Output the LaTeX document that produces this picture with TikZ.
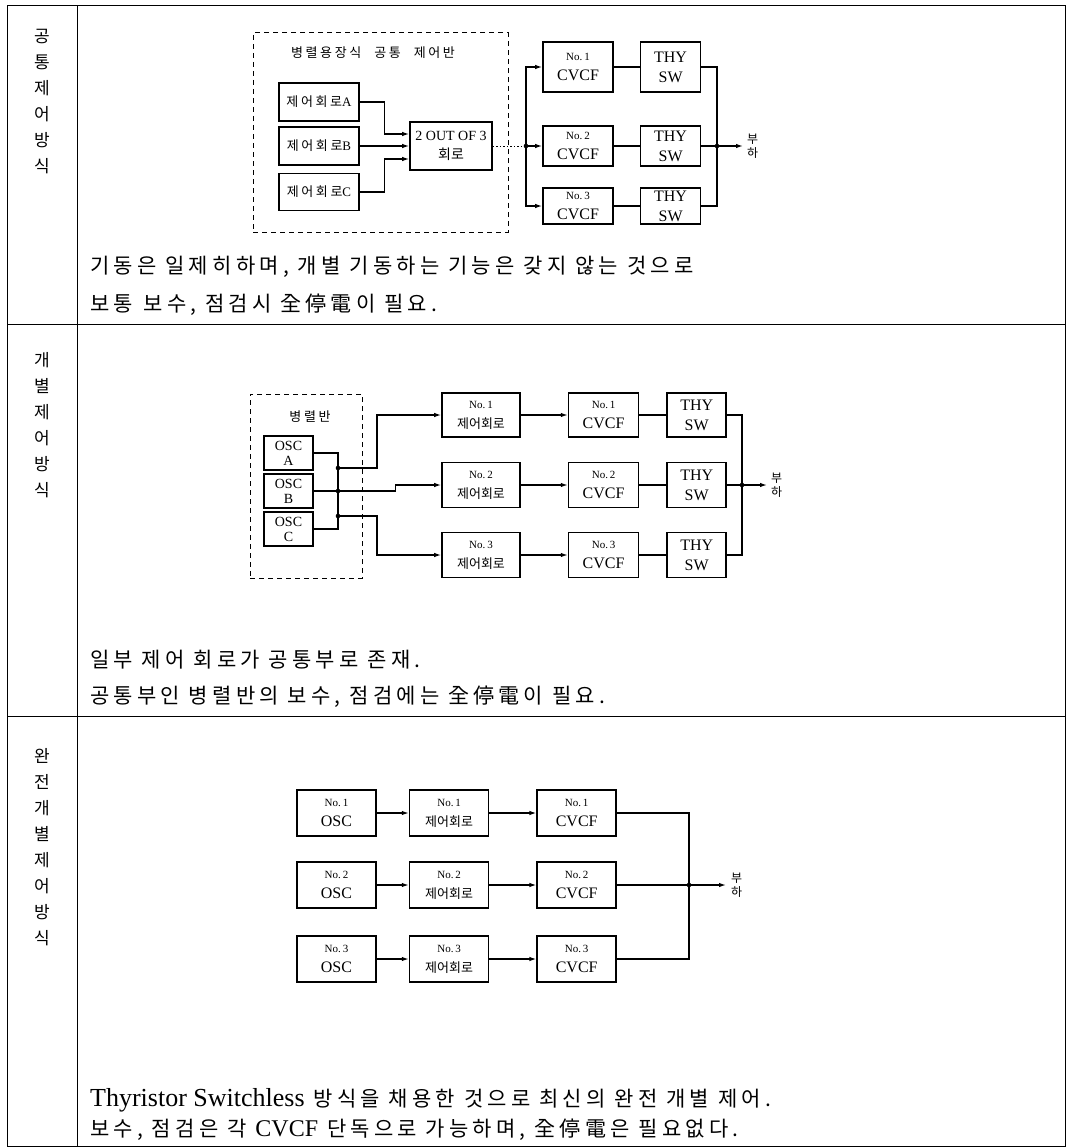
\documentclass[tikz,border=0pt]{standalone}
\usepackage{fontspec}
\setmainfont{Liberation Serif}
\newfontfamily\kr{Noto Sans CJK KR}
\newfontfamily\krs{Noto Sans CJK KR}[LetterSpace=20]
\usetikzlibrary{arrows.meta,positioning,calc}
\newcommand\nol[1]{{\fontsize{11}{12}\selectfont No.\,#1}}
\newcommand\ctlk{{\kr\fontsize{13}{15}\selectfont 제어회로}}

\begin{document}
\begin{tikzpicture}[x=1pt, y=-1pt,
  blk/.style={rectangle, draw, line width=1.6pt, align=center, inner sep=0pt,
              font=\fontsize{16}{20}\selectfont},
  panel/.style={rectangle, draw, line width=1pt, dash pattern=on 5pt off 4pt},
  lbl/.style={font=\kr\fontsize{17}{26}\selectfont, align=center, inner sep=0pt, anchor=north},
  txt/.style={font=\krs\fontsize{21}{24}\selectfont, anchor=west, inner sep=0pt},
  rule/.style={line width=1pt},
  ln/.style={line width=1.3pt},
  arr/.style={ln, -{Latex[length=7pt,width=4.5pt]}},
  load/.style={font=\kr\fontsize{12}{14}\selectfont, align=center, inner sep=0pt, anchor=west}
]
  \useasboundingbox (0,0) rectangle (1070,1148);
  % table
  \draw[rule] (7,6) rectangle (1065,1146);
  \draw[rule] (77,6) -- (77,1146);
  \draw[rule] (7,324) -- (1065,324);
  \draw[rule] (7,716) -- (1065,716);

  % common control
  \node[lbl] (capT) at (42,29) {공\\통\\제\\어\\방\\식};
  \node[panel, minimum width=255pt, minimum height=199pt] (panT) at (380.5,132.5) {};
  \node[font=\krs\fontsize{13}{15}\selectfont] (panTt) at (373,53) {병렬용장식\quad 공통\quad 제어반};
  \node[blk, minimum width=80pt, minimum height=38pt, font=\krs\fontsize{13}{16}\selectfont] (ctlA) at (319,102) {제어회로{\rmfamily A}};
  \node[blk, minimum width=80pt, minimum height=38pt, font=\krs\fontsize{13}{16}\selectfont] (ctlB) at (319,146) {제어회로{\rmfamily B}};
  \node[blk, minimum width=80pt, minimum height=37pt, font=\krs\fontsize{13}{16}\selectfont] (ctlC) at (319,192) {제어회로{\rmfamily C}};
  \node[blk, minimum width=82pt, minimum height=48pt, font=\fontsize{14}{19}\selectfont] (vote) at (451,146) {2 OUT OF 3\\{\kr 회로}};
  \node[blk, minimum width=70pt, minimum height=50pt] (cvT1) at (578,67) {\nol1\\CVCF};
  \node[blk, minimum width=70pt, minimum height=40pt] (cvT2) at (578,146) {\nol2\\CVCF};
  \node[blk, minimum width=70pt, minimum height=36pt] (cvT3) at (578,206) {\nol3\\CVCF};
  \node[blk, minimum width=60pt, minimum height=50pt] (swT1) [right=26pt of cvT1] {THY\\SW};
  \node[blk, minimum width=60pt, minimum height=40pt] (swT2) [right=26pt of cvT2] {THY\\SW};
  \node[blk, minimum width=60pt, minimum height=36pt] (swT3) [right=26pt of cvT3] {THY\\SW};
  \coordinate (jT) at (526,146);
  \coordinate (oT) at (717,146);
  \coordinate (eT) at (743,146);
  \node[load, right=4pt of eT] (ldT) {부\\하};
  \draw[arr] (ctlA.east) -- ++(25,0) |- ([yshift=12pt]vote.west);
  \draw[arr] (ctlB) -- (vote);
  \draw[arr] (ctlC.east) -- ++(25,0) |- ([yshift=-13pt]vote.west);
  \draw[line width=1pt, dash pattern=on 1.5pt off 2pt] (vote.east) -- (jT);
  \draw[arr] (jT) |- (cvT1.west);
  \draw[arr] (jT) -- (cvT2.west);
  \draw[arr] (jT) |- (cvT3.west);
  \draw[ln] (cvT1) -- (swT1);  \draw[ln] (cvT2) -- (swT2);  \draw[ln] (cvT3) -- (swT3);
  \draw[ln] (swT1.east) -| (oT);  \draw[ln] (swT3.east) -| (oT);  \draw[ln] (swT2.east) -- (oT);
  \draw[arr] (oT) -- (eT);
  \foreach \p in {jT,oT} \fill (\p) circle (2.3pt);
  \node[txt] (noteT1) at (90,267) {기동은 일제히하며, 개별 기동하는 기능은 갖지 않는 것으로};
  \node[txt] (noteT2) at (90,305) {보통\enspace 보수, 점검시 全停電이 필요.};

  % individual control
  \node[lbl] (capM) at (42,352) {개\\별\\제\\어\\방\\식};
  \node[panel, minimum width=112pt, minimum height=184pt] (panM) at (306,486) {};
  \node[font=\krs\fontsize{13}{15}\selectfont] (panMt) at (310,417) {병렬반};
  \node[blk, minimum width=49pt, minimum height=34pt, font=\fontsize{14}{15}\selectfont] (oscA) at (288.5,453) {OSC\\A};
  \node[blk, minimum width=49pt, minimum height=34pt, font=\fontsize{14}{15}\selectfont] (oscB) at (288.5,491) {OSC\\B};
  \node[blk, minimum width=49pt, minimum height=34pt, font=\fontsize{14}{15}\selectfont] (oscC) at (288.5,529) {OSC\\C};
  \node[blk, minimum width=78pt, minimum height=44pt] (ctlM1) at (481,415) {\nol1\\\ctlk};
  \node[blk, minimum width=78pt, minimum height=45pt] (ctlM2) at (481,485) {\nol2\\\ctlk};
  \node[blk, minimum width=78pt, minimum height=45pt] (ctlM3) at (481,555) {\nol3\\\ctlk};
  \node[blk, minimum width=70pt, minimum height=44pt] (cvM1) [right=47pt of ctlM1] {\nol1\\CVCF};
  \node[blk, minimum width=70pt, minimum height=45pt] (cvM2) [right=47pt of ctlM2] {\nol2\\CVCF};
  \node[blk, minimum width=70pt, minimum height=45pt] (cvM3) [right=47pt of ctlM3] {\nol3\\CVCF};
  \node[blk, minimum width=59pt, minimum height=44pt] (swM1) [right=27pt of cvM1] {THY\\SW};
  \node[blk, minimum width=59pt, minimum height=45pt] (swM2) [right=27pt of cvM2] {THY\\SW};
  \node[blk, minimum width=59pt, minimum height=45pt] (swM3) [right=27pt of cvM3] {THY\\SW};
  \coordinate (jA) at (338,453);
  \coordinate (jC) at (338,529);
  \coordinate (j1) at (338,468);
  \coordinate (jB) at (338,491);
  \coordinate (j3) at (338,516);
  \coordinate (oM) at (742,485);
  \coordinate (eM) at (767,485);
  \node[load, right=4pt of eM] (ldM) {부\\하};
  \draw[ln] (oscA.east) -- (jA) -- (jC) -- (oscC.east);
  \draw[arr] (oscB.east) -- ++(82,0) |- (ctlM2.west);
  \draw[arr] (j1) -- ++(39,0) |- (ctlM1.west);
  \draw[arr] (j3) -- ++(39,0) |- (ctlM3.west);
  \draw[arr] (ctlM1) -- (cvM1);  \draw[arr] (ctlM2) -- (cvM2);  \draw[arr] (ctlM3) -- (cvM3);
  \draw[ln] (cvM1) -- (swM1);  \draw[ln] (cvM2) -- (swM2);  \draw[ln] (cvM3) -- (swM3);
  \draw[ln] (swM1.east) -| (oM);  \draw[ln] (swM3.east) -| (oM);  \draw[ln] (swM2.east) -- (oM);
  \draw[arr] (oM) -- (eM);
  \foreach \p in {j1,jB,j3,oM} \fill (\p) circle (2.3pt);
  \node[txt] (noteM1) at (90,660) {일부 제어 회로가 공통부로 존재.};
  \node[txt] (noteM2) at (90,697) {공통부인 병렬반의 보수, 점검에는 全停電이 필요.};

  % fully individual control
  \node[lbl] (capF) at (42,748) {완\\전\\개\\별\\제\\어\\방\\식};
  \node[blk, minimum width=79pt, minimum height=46pt] (oscF1) at (336.5,813) {\nol1\\OSC};
  \node[blk, minimum width=79pt, minimum height=46pt] (oscF2) at (336.5,885) {\nol2\\OSC};
  \node[blk, minimum width=79pt, minimum height=46pt] (oscF3) at (336.5,959) {\nol3\\OSC};
  \node[blk, minimum width=79pt, minimum height=46pt] (ctlF1) [right=32pt of oscF1] {\nol1\\\ctlk};
  \node[blk, minimum width=79pt, minimum height=46pt] (ctlF2) [right=32pt of oscF2] {\nol2\\\ctlk};
  \node[blk, minimum width=79pt, minimum height=46pt] (ctlF3) [right=32pt of oscF3] {\nol3\\\ctlk};
  \node[blk, minimum width=79pt, minimum height=46pt] (cvF1) [right=47pt of ctlF1] {\nol1\\CVCF};
  \node[blk, minimum width=79pt, minimum height=46pt] (cvF2) [right=47pt of ctlF2] {\nol2\\CVCF};
  \node[blk, minimum width=79pt, minimum height=46pt] (cvF3) [right=47pt of ctlF3] {\nol3\\CVCF};
  \coordinate (oF) at (689,885);
  \coordinate (eF) at (726,885);
  \node[load, right=5pt of eF] (ldF) {부\\하};
  \foreach \i in {1,2,3} {
    \draw[arr] (oscF\i) -- (ctlF\i);
    \draw[arr] (ctlF\i) -- (cvF\i);
  }
  \draw[ln] (cvF1.east) -| (oF);  \draw[ln] (cvF3.east) -| (oF);  \draw[ln] (cvF2.east) -- (oF);
  \draw[arr] (oF) -- (eF);
  \fill (oF) circle (2.3pt);
  \node[txt] (noteF1) at (90,1100) {{\rmfamily\fontsize{26}{28}\selectfont Thyristor Switchless} 방식을 채용한 것으로 최신의 완전 개별 제어.};
  \node[txt] (noteF2) at (90,1130) {보수, 점검은 각 {\rmfamily\fontsize{24}{28}\selectfont CVCF} 단독으로 가능하며, 全停電은 필요없다.};
\end{tikzpicture}
\end{document}
